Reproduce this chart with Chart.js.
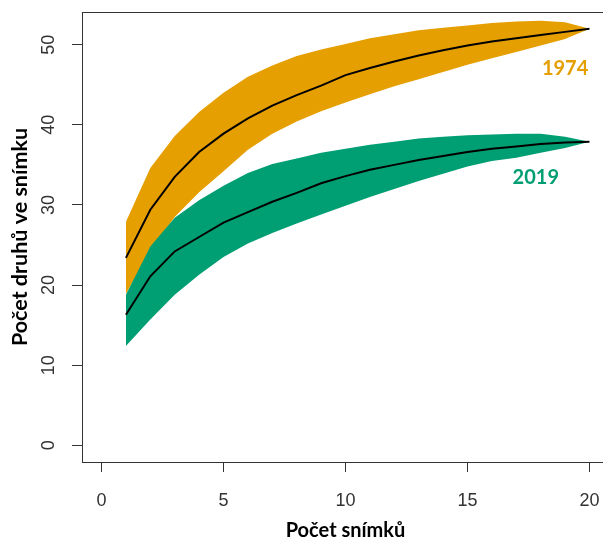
<!DOCTYPE html>
<html>
<head>
<meta charset="utf-8">
<title>Počet druhů ve snímku</title>
<script src="https://cdn.jsdelivr.net/npm/chart.js@4.4.1/dist/chart.umd.min.js"></script>
<style>
  html, body { margin: 0; padding: 0; background: #fff; overflow: hidden; }
  #wrap { width: 603px; height: 541px; overflow: hidden; }
  canvas { display: block; }
</style>
</head>
<body>
<div id="wrap"><canvas id="c" width="610" height="541"></canvas></div>
<script>
// Species accumulation curves: mean number of species vs. number of relevés
const snimky = [1, 2, 3, 4, 5, 6, 7, 8, 9, 10, 11, 12, 13, 14, 15, 16, 17, 18, 19, 20];

const mean1974  = [23.4, 29.4, 33.5, 36.6, 38.9, 40.8, 42.4, 43.7, 44.9, 46.2, 47.1, 47.9, 48.65, 49.3, 49.9, 50.4, 50.8, 51.2, 51.6, 52.0];
const upper1974 = [27.9, 34.6, 38.6, 41.6, 44.0, 46.0, 47.4, 48.6, 49.4, 50.1, 50.8, 51.3, 51.8, 52.1, 52.4, 52.7, 52.9, 53.0, 52.8, 52.0];
const lower1974 = [18.9, 24.3, 28.5, 31.6, 34.2, 36.9, 38.9, 40.4, 41.7, 42.8, 43.8, 44.8, 45.7, 46.6, 47.5, 48.3, 49.1, 49.9, 50.7, 52.0];

const mean2019  = [16.3, 21.1, 24.2, 26.0, 27.8, 29.1, 30.4, 31.5, 32.7, 33.6, 34.4, 35.0, 35.6, 36.1, 36.6, 37.0, 37.3, 37.6, 37.8, 37.9];
const upper2019 = [18.8, 24.8, 28.4, 30.6, 32.4, 34.0, 35.1, 35.8, 36.5, 37.0, 37.5, 37.9, 38.3, 38.5, 38.7, 38.8, 38.9, 38.9, 38.5, 37.9];
const lower2019 = [12.4, 15.7, 18.8, 21.3, 23.5, 25.2, 26.5, 27.7, 28.8, 29.9, 31.0, 32.0, 33.0, 33.9, 34.8, 35.5, 35.9, 36.5, 37.1, 37.9];

const xTicks = [0, 5, 10, 15, 20];
const yTicks = [0, 10, 20, 30, 40, 50];
const years = ['1974', '2019'];

const ORANGE = '#E69F00';
const GREEN = '#009E73';
const AXIS = '#333333';

const pts = (ys) => snimky.map((x, i) => ({ x: x, y: ys[i] }));

// axis limits padded by 4 % like base R graphics
const xLim = [0, 20], yLim = [0, 52];
const xPad = (xLim[1] - xLim[0]) * 0.04, yPad = (yLim[1] - yLim[0]) * 0.04;

// where the year captions sit, in data units
const captionAt = { '1974': [19, 47.0], '2019': [17.8, 33.4] };

const framePlugin = {
  id: 'frame',
  afterDraw(chart) {
    const { ctx, chartArea: a } = chart;
    ctx.save();
    ctx.strokeStyle = AXIS;
    ctx.lineWidth = 1;
    ctx.strokeRect(Math.round(a.left) + 0.5, Math.round(a.top) + 0.5,
                   Math.round(a.right - a.left) - 1, Math.round(a.bottom - a.top));
    ctx.restore();
  }
};

const captionPlugin = {
  id: 'captions',
  afterDatasetsDraw(chart) {
    const { ctx, scales } = chart;
    const colors = { '1974': ORANGE, '2019': GREEN };
    ctx.save();
    ctx.font = 'bold 20px Lato, "Open Sans", sans-serif';
    ctx.textAlign = 'center';
    ctx.textBaseline = 'middle';
    years.forEach((yr) => {
      const [vx, vy] = captionAt[yr];
      ctx.fillStyle = colors[yr];
      ctx.fillText(yr, scales.x.getPixelForValue(vx), scales.y.getPixelForValue(vy));
    });
    ctx.restore();
  }
};

const band = (label, data, color, fill, order) => ({
  label, data: pts(data), borderWidth: 0, borderColor: color,
  backgroundColor: color, pointRadius: 0, fill, order, tension: 0
});

// fixed axis boxes; no extra room reserved for overhanging tick labels
const fixBox = (size, horizontal) => (s) => {
  if (horizontal) s.height = size; else s.width = size;
  s.paddingTop = 0; s.paddingBottom = 0; s.paddingLeft = 0; s.paddingRight = 0;
};

new Chart(document.getElementById('c'), {
  type: 'line',
  data: {
    datasets: [
      band('1974 horní', upper1974, ORANGE, '+1', 3),
      band('1974 dolní', lower1974, ORANGE, false, 3),
      band('2019 horní', upper2019, GREEN, '+1', 2),
      band('2019 dolní', lower2019, GREEN, false, 2),
      { label: '1974', data: pts(mean1974), borderColor: '#000', borderWidth: 2,
        pointRadius: 0, fill: false, order: 0, tension: 0 },
      { label: '2019', data: pts(mean2019), borderColor: '#000', borderWidth: 2,
        pointRadius: 0, fill: false, order: 0, tension: 0 }
    ]
  },
  options: {
    responsive: false,
    devicePixelRatio: 1,
    animation: false,
    layout: { padding: { top: 12, right: 1, left: 0, bottom: 0 } },
    plugins: { legend: { display: false }, tooltip: { enabled: false } },
    scales: {
      x: {
        type: 'linear',
        min: xLim[0] - xPad, max: xLim[1] + xPad,
        afterBuildTicks: (s) => { s.ticks = xTicks.map((v) => ({ value: v })); },
        afterFit: fixBox(79, true),
        grid: { display: true, drawOnChartArea: false, drawTicks: true, tickLength: 10, tickColor: AXIS },
        border: { display: false },
        ticks: { color: AXIS, padding: 18, font: { family: '"Liberation Sans", Arial, sans-serif', size: 18 } },
        title: { display: true, text: 'Počet snímků', color: '#000',
                 font: { family: 'Lato, "Open Sans", sans-serif', size: 20, weight: 'bold', lineHeight: 1.0 },
                 padding: { top: 0, bottom: 0 } }
      },
      y: {
        type: 'linear',
        min: yLim[0] - yPad, max: yLim[1] + yPad,
        afterBuildTicks: (s) => { s.ticks = yTicks.map((v) => ({ value: v })); },
        afterFit: fixBox(82, false),
        grid: { display: true, drawOnChartArea: false, drawTicks: true, tickLength: 10, tickColor: AXIS },
        border: { display: false },
        ticks: { color: AXIS, padding: 13, minRotation: 90, maxRotation: 90, crossAlign: 'center',
                 font: { family: '"Liberation Sans", Arial, sans-serif', size: 18 } },
        title: { display: true, text: 'Počet druhů ve snímku', color: '#000',
                 font: { family: 'Lato, "Open Sans", sans-serif', size: 21.5, weight: 'bold', lineHeight: 1.0 },
                 padding: { top: 9, bottom: 0 } }
      }
    }
  },
  plugins: [framePlugin, captionPlugin]
});
</script>
</body>
</html>
